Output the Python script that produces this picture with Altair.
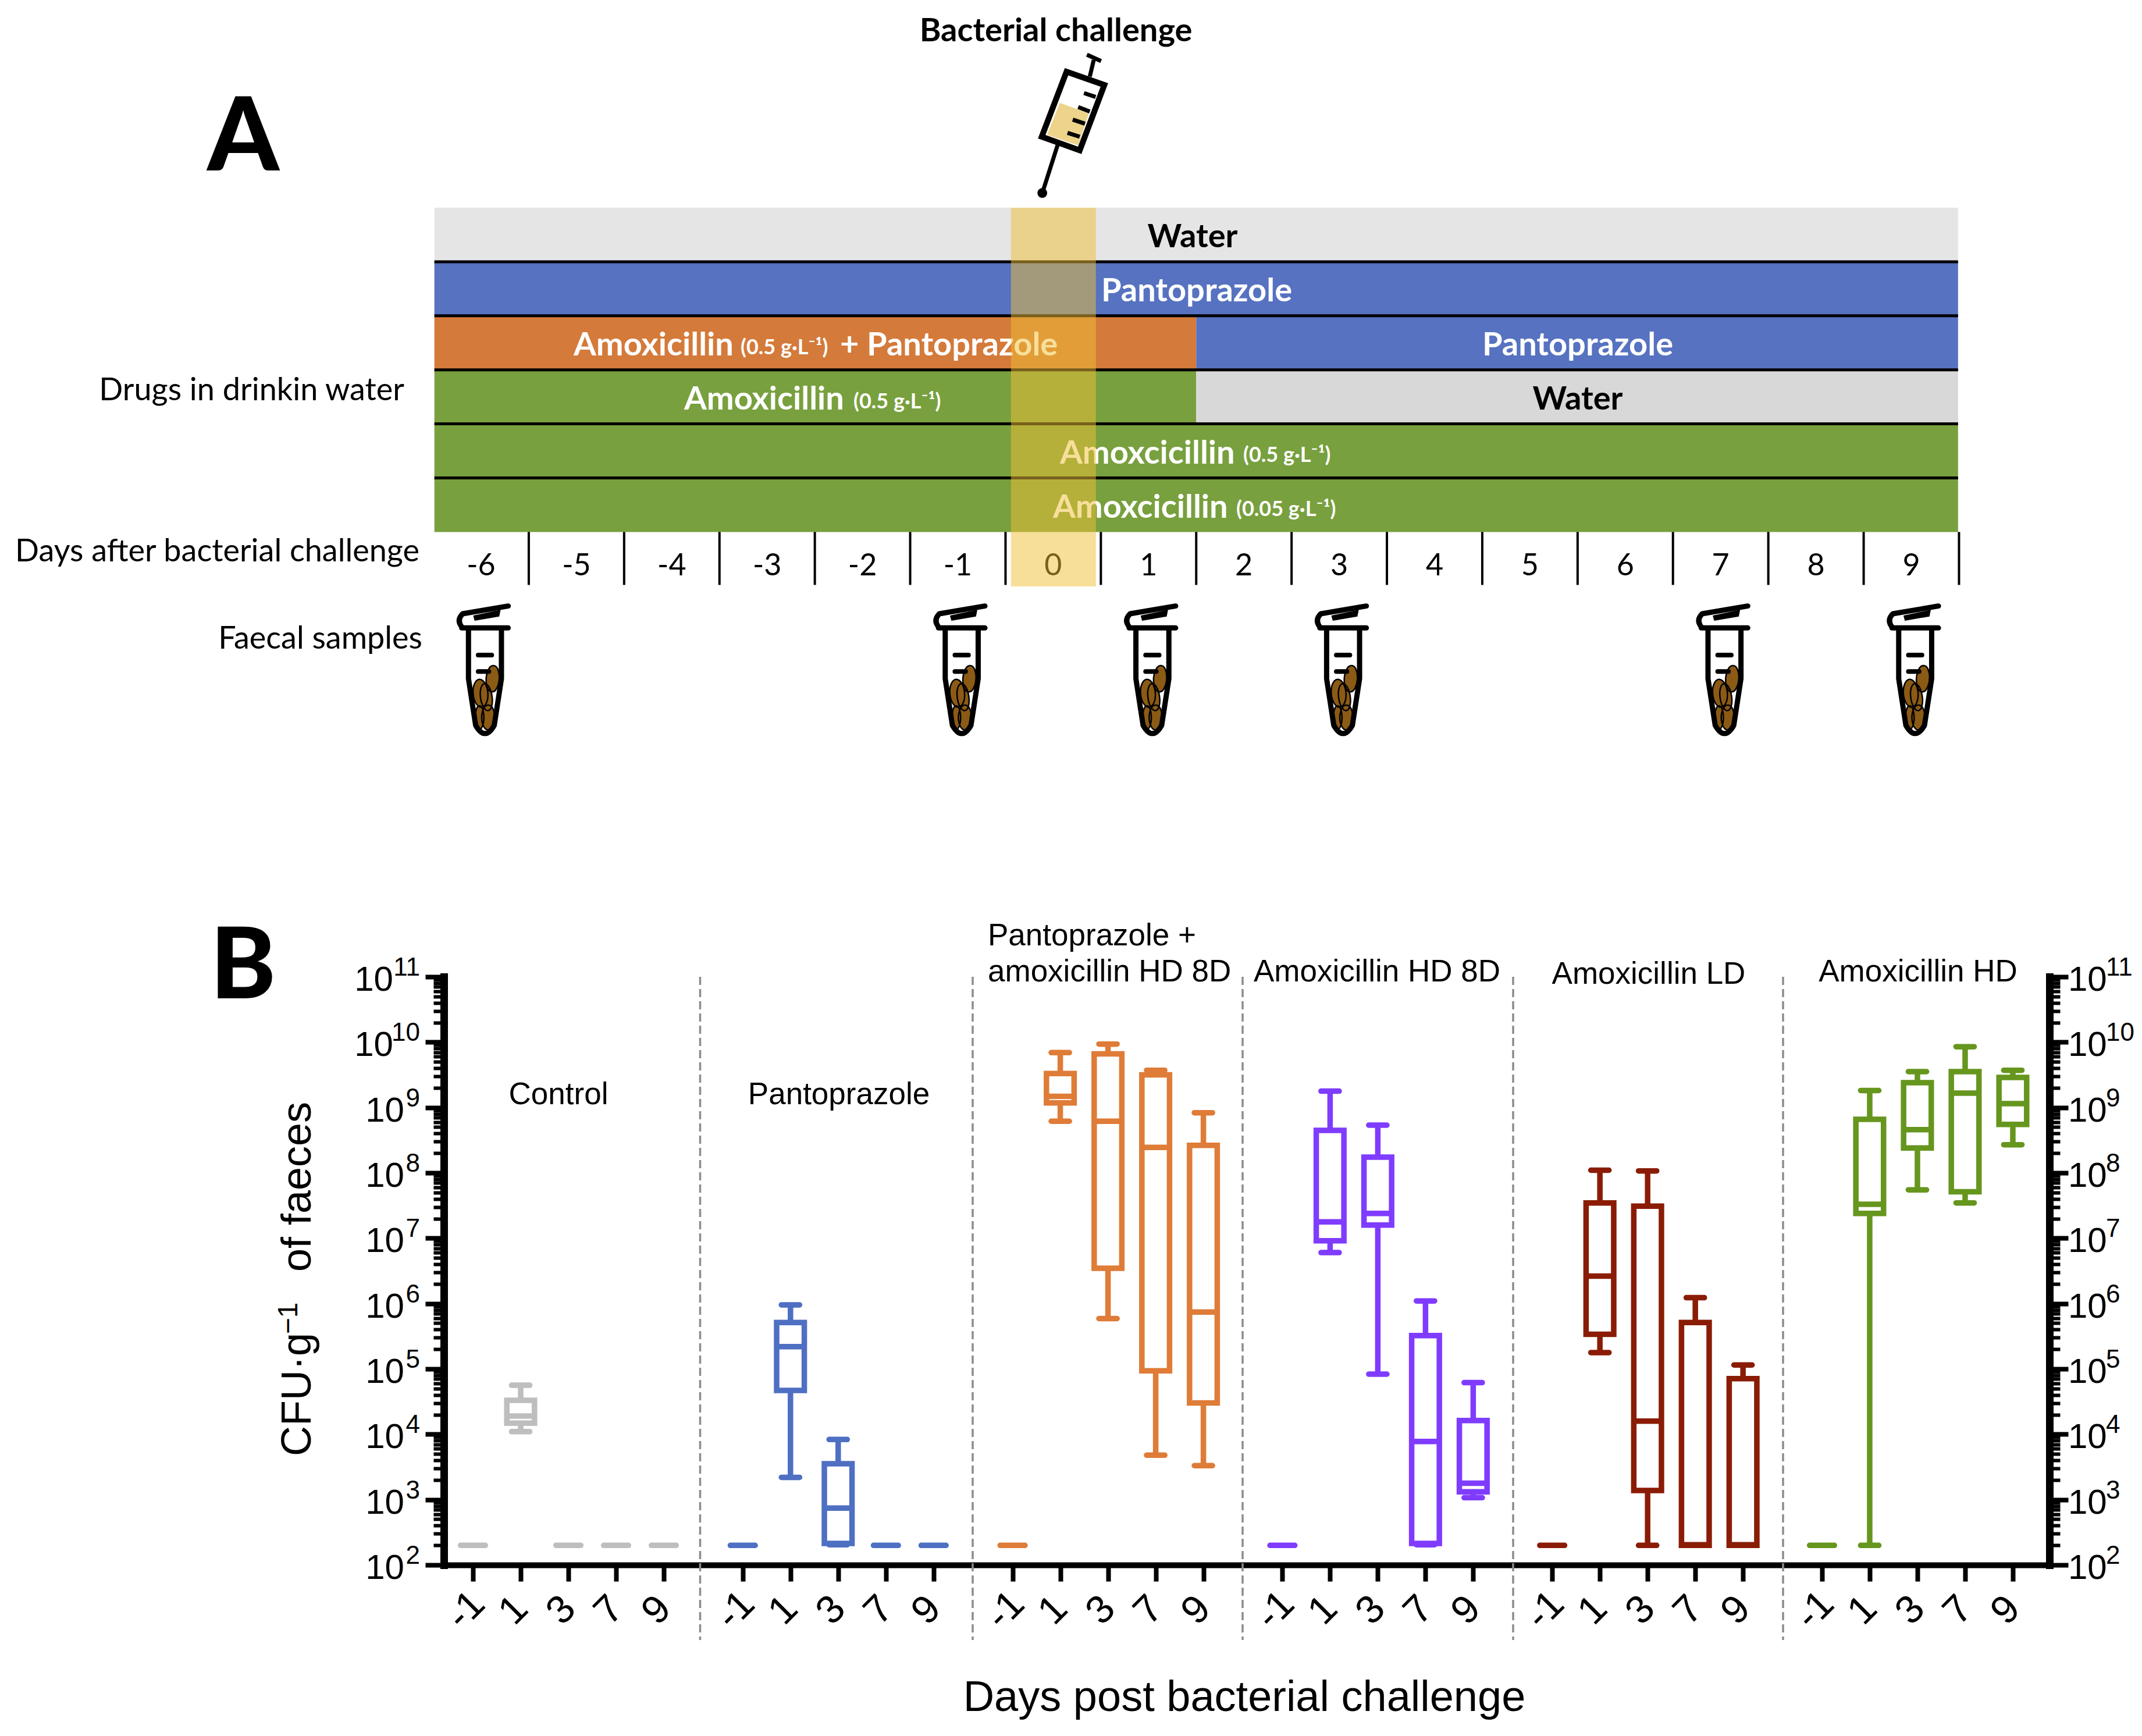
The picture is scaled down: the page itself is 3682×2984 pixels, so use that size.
import altair as alt
import pandas as pd
import math

# ---------- Panel A content ----------
day_labels = [-6, -5, -4, -3, -2, -1, 0, 1, 2, 3, 4, 5, 6, 7, 8, 9]
sample_days = [-6, -1, 1, 3, 7, 9]
seg_row = [0, 1, 2, 2, 3, 3, 4, 5]
seg_start = [-6.49, -6.49, -6.49, 1.5, -6.49, 1.5, -6.49, -6.49]
seg_end = [9.49, 9.49, 1.5, 9.49, 1.5, 9.49, 9.49, 9.49]
seg_color = ["#E5E5E5", "#5672C0", "#D47A3A", "#5672C0", "#78A03E", "#D8D8D8", "#78A03E", "#78A03E"]

# ---------- Panel B content ----------
groups = ["Control", "Pantoprazole", "Pantoprazole + amoxicillin HD 8D",
          "Amoxicillin HD 8D", "Amoxicillin LD", "Amoxicillin HD"]
group_colors = ["#BEBEBE", "#4E6FC2", "#DE7C38", "#7F3CFF", "#8A1C06", "#66961E"]
post_days = ["-1", "1", "3", "7", "9"]
F = 2.30  # log10(200), detection limit
log_low = [[F, 4.04, F, F, F], [F, 3.34, 2.31, F, F], [F, 8.79, 5.77, 3.68, 3.52],
           [F, 6.78, 4.92, 2.31, 3.03], [F, 5.25, F, F, F], [F, F, 7.74, 7.54, 8.43]]
log_q1 = [[F, 4.17, F, F, F], [F, 4.67, 2.33, F, F], [F, 9.07, 6.54, 4.97, 4.48],
          [F, 6.96, 7.20, 2.33, 3.12], [F, 5.53, 3.14, F, F], [F, 7.38, 8.38, 7.71, 8.74]]
log_med = [[F, 4.28, F, F, F], [F, 5.34, 2.87, F, F], [F, 9.17, 8.79, 8.39, 5.87],
           [F, 7.25, 7.38, 3.89, 3.25], [F, 6.42, 4.20, 2.31, 2.31], [F, 7.52, 8.66, 9.22, 9.06]]
log_q3 = [[F, 4.52, F, F, F], [F, 5.71, 3.55, F, F], [F, 9.52, 9.82, 9.50, 8.42],
          [F, 8.65, 8.24, 5.51, 4.21], [F, 7.54, 7.49, 5.71, 4.85], [F, 8.82, 9.38, 9.55, 9.46]]
log_high = [[F, 4.75, F, F, F], [F, 5.98, 3.92, F, F], [F, 9.84, 9.97, 9.57, 8.92],
            [F, 9.25, 8.73, 6.04, 4.79], [F, 8.04, 8.03, 6.09, 5.06], [F, 9.26, 9.55, 9.93, 9.57]]
exponents = [2, 3, 4, 5, 6, 7, 8, 9, 10, 11]

# ---------- Layout helpers (page pixels to data units, for annotations) ----------
A_H = 1552
PLOT_L, PLOT_R, PLOT_T, PLOT_B = 763, 3523, 1678, 2689
def ax(px): return -6 + (px - 827) / 163.9
def ay(py): return (py - 357) / 92.9

DECADE = (PLOT_B - PLOT_T) / 9
STEP = 82.0
G = 5.656
def bx(px): return (px - 813) / STEP
def by(py): return 10 ** (2 + (PLOT_B - py) / DECADE)

SANS = "Liberation Sans"
LATO = "Lato"

# ---------- Panel A ----------
AX = dict(scale=alt.Scale(domain=[ax(PLOT_L), ax(PLOT_R)], nice=False, zero=False), axis=None)
AY = dict(scale=alt.Scale(domain=[ay(8 + A_H), ay(8)], nice=False, zero=False), axis=None)

def a_text(rows, **style):
    df = pd.DataFrame(rows, columns=["x", "y", "t"])
    st = dict(font=LATO, baseline="middle", align="center", color="black")
    st.update(style)
    return alt.Chart(df).mark_text(**st).encode(
        x=alt.X("x:Q", **AX), y=alt.Y("y:Q", **AY), text="t:N")

segs = pd.DataFrame({"r": seg_row, "r2": [r + 1 for r in seg_row], "s": seg_start, "e": seg_end, "c": seg_color})
a_rect = alt.Chart(segs).mark_rect().encode(
    x=alt.X("s:Q", **AX), x2="e:Q", y=alt.Y("r:Q", **AY), y2="r2:Q",
    color=alt.Color("c:N", scale=None))

seps = pd.DataFrame({"r": [1, 2, 3, 4, 5], "s": -6.49, "e": 9.49})
a_seps = alt.Chart(seps).mark_rule(color="black", strokeWidth=5).encode(
    x=alt.X("s:Q", **AX), x2="e:Q", y=alt.Y("r:Q", **AY))

ticks = pd.DataFrame({"d": [d + 0.5 for d in day_labels], "a": 6.0, "b": 6.98})
a_ticks = alt.Chart(ticks).mark_rule(color="black", strokeWidth=4).encode(
    x=alt.X("d:Q", **AX), y=alt.Y("a:Q", **AY), y2="b:Q")

ROW = lambda k: k + 0.55
bold_white = [
    (ax(2057), ROW(1), "Pantoprazole"), (ax(2712), ROW(2), "Pantoprazole"),
]
bold_white_left = [
    (ax(986), ROW(2), "Amoxicillin"), (ax(1444), ROW(2), "+ Pantoprazole"),
    (ax(1176), ROW(3), "Amoxicillin"), (ax(1822), ROW(4), "Amoxcicillin"),
    (ax(1810), ROW(5), "Amoxcicillin"),
]
small_white = [
    (ax(1273), ROW(2) + 0.04, "(0.5 g·L⁻¹)"), (ax(1467), ROW(3) + 0.04, "(0.5 g·L⁻¹)"),
    (ax(2137), ROW(4) + 0.04, "(0.5 g·L⁻¹)"), (ax(2125), ROW(5) + 0.04, "(0.05 g·L⁻¹)"),
]
bold_black = [(ax(2050), ROW(0), "Water"), (ax(2712), ROW(3), "Water")]
left_labels = [
    (ax(695), ay(672), "Drugs in drinkin water"),
    (ax(721), ay(949), "Days after bacterial challenge"),
    (ax(726), ay(1099), "Faecal samples"),
]
day_rows = [(d, 6.63, str(d)) for d in day_labels]

band = pd.DataFrame({"a": [-0.443], "b": [0.448], "t": [0.0], "u": [ay(1008)]})
a_band = alt.Chart(band).mark_rect(color="#EFBF35", opacity=0.5).encode(
    x=alt.X("a:Q", **AX), x2="b:Q", y=alt.Y("t:Q", **AY), y2="u:Q")

# icons: SVG path symbols in a [-1, 1] box
def pth(points, cx, cy, d):
    s = ""
    for i, (x, y) in enumerate(points):
        s += ("M" if i == 0 else "L") + f"{(x - cx) / d:.4f} {(y - cy) / d:.4f} "
    return s

def ell(x, y, rx, ry, cx, cy, d, rot=0):
    X, Y, R, S = (x - cx) / d, (y - cy) / d, rx / d, ry / d
    c, sn = math.cos(math.radians(rot)), math.sin(math.radians(rot))
    x0, y0, x1, y1 = X + S * sn, Y - S * c, X - S * sn, Y + S * c
    return (f"M{x0:.4f} {y0:.4f} A{R:.4f} {S:.4f} {rot} 1 0 {x1:.4f} {y1:.4f} "
            f"A{R:.4f} {S:.4f} {rot} 1 0 {x0:.4f} {y0:.4f} Z ")

TC = (330, 390, 360)
tube_body = (pth([(220, 178), (460, 178)], *TC) +
             pth([(460, 65), (225, 105)], *TC) +
             f"Q{(190-330)/360:.4f} {(140-390)/360:.4f} {(225-330)/360:.4f} {(178-390)/360:.4f} " +
             pth([(255, 190), (255, 440), (292, 680)], *TC) +
             f"Q{(340-330)/360:.4f} {(765-390)/360:.4f} {(388-330)/360:.4f} {(680-390)/360:.4f} " +
             f"L{(425-330)/360:.4f} {(440-390)/360:.4f} L{(425-330)/360:.4f} {(190-390)/360:.4f} ")
tube_marks = pth([(305, 318), (375, 318)], *TC) + pth([(305, 403), (360, 403)], *TC)
tube_cap = pth([(285, 118), (415, 90), (410, 115), (290, 136)], *TC) + "Z"
pellets = (ell(317, 515, 38, 72, *TC, rot=-5) + ell(312, 640, 22, 60, *TC) + ell(357, 640, 33, 64, *TC) +
           ell(347, 535, 30, 70, *TC, rot=-8) + ell(380, 440, 33, 68, *TC, rot=4))

SC = (420, 450, 480)
syr_fill = pth([(365, 350), (515, 405), (460, 570), (300, 515)], *SC) + "Z"
syr_barrel = pth([(400, 190), (595, 258), (468, 595), (272, 525)], *SC) + "Z"
syr_lines = (pth([(520, 215), (540, 130)], *SC) + pth([(505, 102), (578, 135)], *SC) +
             pth([(355, 565), (280, 800)], *SC))
syr_ticks = (pth([(490, 300), (550, 320)], *SC) + pth([(460, 372), (520, 395)], *SC) +
             pth([(432, 437), (495, 458)], *SC) + pth([(405, 505), (468, 525)], *SC))
syr_ball = ell(275, 815, 25, 25, *SC)

tube_df = pd.DataFrame({"x": [d + 0.02 for d in sample_days], "y": ay(1150)})
def tube_layer(shape, **kw):
    st = dict(shape=shape, size=240 ** 2, opacity=1)
    st.update(kw)
    return alt.Chart(tube_df).mark_point(**st).encode(x=alt.X("x:Q", **AX), y=alt.Y("y:Q", **AY))

syr_df = pd.DataFrame({"x": [ax(1840)], "y": [ay(210)]})
def syr_layer(shape, **kw):
    st = dict(shape=shape, size=320 ** 2, opacity=1)
    st.update(kw)
    return alt.Chart(syr_df).mark_point(**st).encode(x=alt.X("x:Q", **AX), y=alt.Y("y:Q", **AY))

panel_a = alt.layer(
    a_rect, a_seps, a_ticks,
    a_text(bold_white, color="white", fontWeight="bold", fontSize=56),
    a_text(bold_white_left, color="white", fontWeight="bold", fontSize=56, align="left"),
    a_text(small_white, color="white", fontWeight="bold", fontSize=36, align="left"),
    a_text(bold_black, fontWeight="bold", fontSize=56),
    a_text(left_labels, fontSize=54, align="right"),
    a_text(day_rows, fontSize=52),
    a_text([(ax(1815), ay(54), "Bacterial challenge")], fontWeight="bold", fontSize=56),
    a_text([(ax(418), ay(240), "A")], fontWeight=900, fontSize=176),
    a_band,
    tube_layer(pellets, filled=True, fill="#8B5A14", stroke="black", strokeWidth=2.5),
    tube_layer(tube_body, filled=False, color="black", strokeWidth=9, strokeCap="round", strokeJoin="round"),
    tube_layer(tube_marks, filled=False, color="black", strokeWidth=8, strokeCap="round"),
    tube_layer(tube_cap, filled=True, color="black", stroke="black", strokeWidth=3),
    syr_layer(syr_fill, filled=True, color="#EDD48A"),
    syr_layer(syr_barrel, filled=False, color="black", strokeWidth=10, strokeJoin="miter"),
    syr_layer(syr_lines, filled=False, color="black", strokeWidth=7),
    syr_layer(syr_ticks, filled=False, color="black", strokeWidth=7),
    syr_layer(syr_ball, filled=True, color="black"),
).properties(width=PLOT_R - PLOT_L, height=A_H)

# ---------- Panel B ----------
rows = []
for gi, g in enumerate(groups):
    for di, d in enumerate(post_days):
        rows.append(dict(g=g, pos=gi * G + di,
                         low=10 ** log_low[gi][di], q1=10 ** log_q1[gi][di], med=10 ** log_med[gi][di],
                         q3=10 ** log_q3[gi][di], high=10 ** log_high[gi][di],
                         flat=log_high[gi][di] == F))
df = pd.DataFrame(rows)
for c, w in [("b", 0.29), ("w", 0.19), ("f", 0.26)]:
    df[c + "l"] = df["pos"] - w
    df[c + "r"] = df["pos"] + w
boxed = df[~df["flat"]]
flat = df[df["flat"]]

xscale = alt.Scale(domain=[bx(PLOT_L), bx(PLOT_R)], nice=False, zero=False)
yscale = alt.Scale(type="log", domain=[100, 1e11], nice=False)
colr = alt.Color("g:N", scale=alt.Scale(domain=groups, range=group_colors), legend=None)

tick_values = [m * 10 ** e for e in range(2, 11) for m in range(1, 10)] + [1e11]
is_major = "abs(log(datum.value)/LN10-round(log(datum.value)/LN10))<0.01"
def y_axis(orient):
    return alt.Axis(orient=orient, values=tick_values, labels=False, title=None, grid=False,
                    domainColor="black", domainWidth=13, domainCap="square", tickColor="black",
                    tickSize={"condition": {"test": is_major, "value": 32}, "value": 18},
                    tickWidth={"condition": {"test": is_major, "value": 8}, "value": 6})

x_axis = alt.Axis(values=[gi * G + di for gi in range(6) for di in range(5)],
                  labelExpr=f"['-1','1','3','7','9'][round((datum.value+0.5)%{G}-0.5)]",
                  title=None, grid=False, domainColor="black", domainWidth=10, domainCap="square",
                  tickColor="black", tickWidth=8, tickSize=28, labelAngle=315, labelAlign="center",
                  labelBaseline="middle", labelPadding=50, labelOffset=-12, labelFont=SANS,
                  labelFontSize=68, labelColor="black", labelOverlap=False, labelBound=False, labelFlush=False)

NX = dict(scale=xscale, axis=x_axis)
NY = dict(scale=yscale, axis=None)
LW = 9.5

box = alt.Chart(boxed).mark_rect(fill="white", fillOpacity=0, strokeWidth=LW).encode(
    x=alt.X("bl:Q", **NX), x2="br:Q", y=alt.Y("q1:Q", **NY), y2="q3:Q",
    stroke=alt.Stroke("g:N", scale=alt.Scale(domain=groups, range=group_colors), legend=None))
wh_hi = alt.Chart(boxed).mark_rule(strokeWidth=LW).encode(
    x=alt.X("pos:Q", **NX), y=alt.Y("q3:Q", scale=yscale, axis=y_axis("left")),
    y2="high:Q", color=colr)
wh_lo = alt.Chart(boxed).mark_rule(strokeWidth=LW).encode(
    x=alt.X("pos:Q", **NX), y=alt.Y("low:Q", scale=yscale, axis=y_axis("right")), y2="q1:Q", color=colr)
cap_hi = alt.Chart(boxed).mark_rule(strokeWidth=LW, strokeCap="round").encode(
    x=alt.X("wl:Q", **NX), x2="wr:Q", y=alt.Y("high:Q", **NY), color=colr)
cap_lo = alt.Chart(boxed).mark_rule(strokeWidth=LW, strokeCap="round").encode(
    x=alt.X("wl:Q", **NX), x2="wr:Q", y=alt.Y("low:Q", **NY), color=colr)
med = alt.Chart(boxed).mark_rule(strokeWidth=LW).encode(
    x=alt.X("bl:Q", **NX), x2="br:Q", y=alt.Y("med:Q", **NY), color=colr)
fl = alt.Chart(flat).mark_rule(strokeWidth=LW, strokeCap="round").encode(
    x=alt.X("fl:Q", **NX), x2="fr:Q", y=alt.Y("med:Q", **NY), color=colr)

dividers = pd.DataFrame({"x": [bx(p) for p in [1203.5, 1672, 2136, 2601, 3065]], "a": 1e11, "b": by(2818)})
div = alt.Chart(dividers).mark_rule(color="#8C8C8C", strokeWidth=3.5, strokeDash=[14, 7]).encode(
    x=alt.X("x:Q", **NX), y=alt.Y("a:Q", **NY), y2="b:Q")

def b_text(rows_, **style):
    d = pd.DataFrame(rows_, columns=["x", "y", "t"])
    st = dict(font=SANS, baseline="middle", align="center", color="black")
    st.update(style)
    return alt.Chart(d).mark_text(**st).encode(x=alt.X("x:Q", **NX), y=alt.Y("y:Q", **NY), text="t:N")

group_text = [
    (bx(960), by(1881), "Control"), (bx(1442), by(1881), "Pantoprazole"),
    (bx(2367), by(1670), "Amoxicillin HD 8D"), (bx(2834), by(1674), "Amoxicillin LD"),
    (bx(3297), by(1670), "Amoxicillin HD"),
]
group_left = [(bx(1698), by(1608), "Pantoprazole +"), (bx(1698), by(1670), "amoxicillin HD 8D")]

ten_left = [(bx(676 if e > 9 else 695), 10.0 ** e, "10") for e in exponents]
exp_left = [(bx(722), 10.0 ** e, str(e)) for e in exponents]
ten_right = [(bx(3555), 10.0 ** e, "10") for e in exponents]
exp_right = [(bx(3620), 10.0 ** e, str(e)) for e in exponents]

anchor = alt.Chart(pd.DataFrame({"x": [bx(8.5)], "y": [by(1560.5)]})).mark_point(size=1, opacity=0).encode(
    x=alt.X("x:Q", **NX), y=alt.Y("y:Q", **NY))

panel_b = alt.layer(
    wh_hi, wh_lo, anchor, box, cap_hi, cap_lo, med, fl, div,
    b_text(group_text, fontSize=53),
    b_text(group_left, fontSize=53, align="left"),
    b_text(ten_left, fontSize=60, align="right", dy=6),
    b_text(exp_left, fontSize=44, align="right", dy=-15),
    b_text(ten_right, fontSize=60, align="left", dy=6),
    b_text(exp_right, fontSize=44, align="left", dy=-15),
    b_text([(bx(512), by(2396), "CFU·g")], fontSize=72, angle=270),
    b_text([(bx(497), by(2265), "−1")], fontSize=48, angle=270),
    b_text([(bx(512), by(2039), "of faeces")], fontSize=72, angle=270),
    b_text([(bx(2139), by(2918), "Days post bacterial challenge")], fontSize=74),
    b_text([(bx(418), by(1664), "B")], font=LATO, fontWeight=900, fontSize=170),
).resolve_axis(y="independent").properties(width=PLOT_R - PLOT_L, height=PLOT_B - PLOT_T)

chart = alt.vconcat(panel_a, panel_b, spacing=0, padding=0).configure_view(strokeWidth=0)
chart.save("out.html", embed_options={"renderer": "svg", "actions": False})
